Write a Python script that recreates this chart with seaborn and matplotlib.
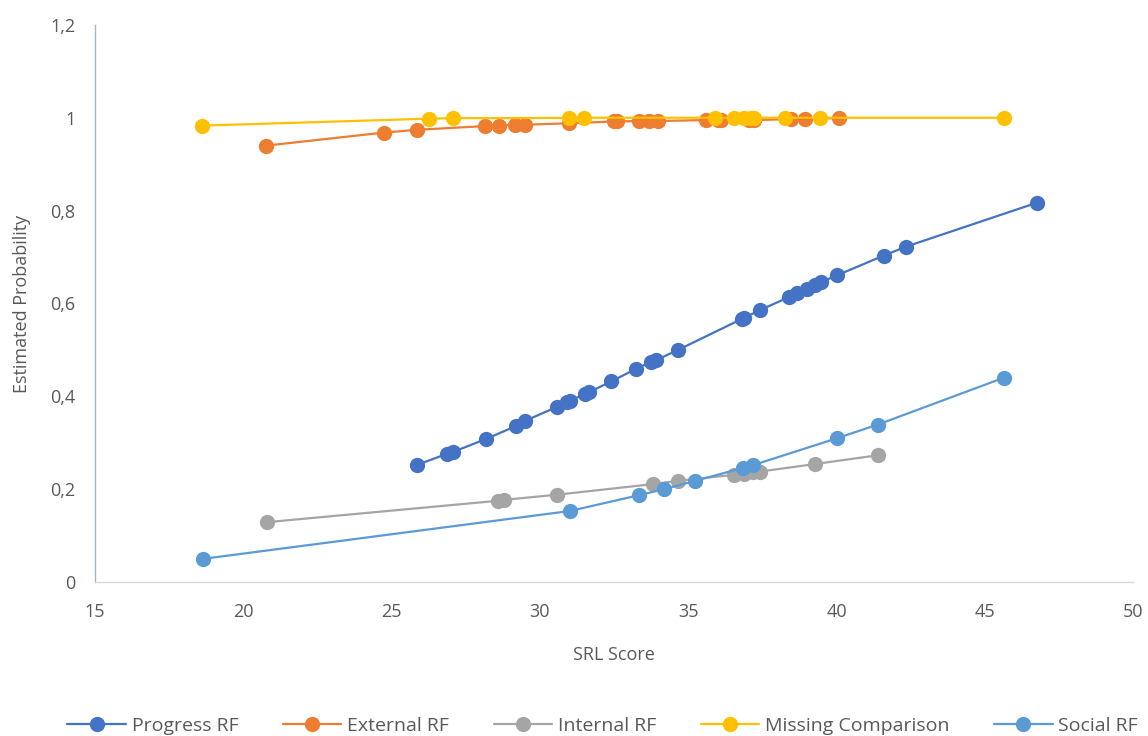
import matplotlib
matplotlib.use("Agg")
import matplotlib.pyplot as plt
import matplotlib.ticker as mticker
import seaborn as sns
import pandas as pd

# values
progress_x = [25.84, 26.86, 27.06, 28.18, 29.19, 29.49, 30.57, 30.91, 31.0, 31.52, 31.66,
              32.40, 33.24, 33.75, 33.92, 34.66, 36.82, 36.89, 37.43, 38.41, 38.68, 38.99,
              39.26, 39.49, 40.03, 41.59, 42.33, 46.76]
progress_y = [0.252, 0.276, 0.280, 0.308, 0.336, 0.347, 0.377, 0.388, 0.390, 0.405, 0.409,
              0.432, 0.459, 0.474, 0.478, 0.500, 0.567, 0.569, 0.586, 0.614, 0.623, 0.631,
              0.640, 0.646, 0.661, 0.703, 0.722, 0.817]

external_x = [20.78, 24.73, 25.84, 28.14, 28.61, 29.16, 29.49, 30.98, 32.50, 32.60, 33.34,
              33.68, 33.99, 35.61, 36.01, 36.10, 37.06, 37.23, 38.48, 38.95, 40.07]
external_y = [0.940, 0.968, 0.974, 0.982, 0.983, 0.985, 0.985, 0.988, 0.992, 0.992, 0.993,
              0.993, 0.993, 0.995, 0.995, 0.995, 0.995, 0.995, 0.997, 0.998, 0.999]

internal_x = [20.81, 28.58, 28.78, 30.57, 33.82, 34.66, 36.55, 36.89, 37.20, 37.43, 39.26, 41.39]
internal_y = [0.129, 0.175, 0.177, 0.188, 0.211, 0.218, 0.231, 0.233, 0.236, 0.238, 0.254, 0.273]

missing_x = [18.61, 26.25, 27.06, 30.98, 31.49, 35.91, 36.55, 36.89, 37.13, 37.23, 38.28,
             39.46, 45.64]
missing_y = [0.983, 0.998, 0.999, 0.9996, 1.0, 1.0, 1.0, 1.0, 1.0, 1.0, 1.0, 1.0, 1.0]

social_x = [18.65, 31.01, 33.34, 34.19, 35.24, 36.86, 37.20, 40.03, 41.39, 45.64]
social_y = [0.050, 0.153, 0.187, 0.200, 0.218, 0.246, 0.252, 0.310, 0.339, 0.440]

series = ["Progress RF", "External RF", "Internal RF", "Missing Comparison", "Social RF"]
colors = ["#4472C4", "#ED7D31", "#A5A5A5", "#FFC000", "#5B9BD5"]

frames = []
for name, xs, ys in zip(series,
                        [progress_x, external_x, internal_x, missing_x, social_x],
                        [progress_y, external_y, internal_y, missing_y, social_y]):
    frames.append(pd.DataFrame({"SRL Score": xs, "Estimated Probability": ys, "series": name}))
df = pd.concat(frames, ignore_index=True)

sns.set_style("white")
plt.rcParams["font.family"] = ["Open Sans", "DejaVu Sans"]

fig = plt.figure(figsize=(11.48, 7.36), dpi=100)
ax = fig.add_axes([0.0828, 0.2092, 0.9042, 0.757])

sns.lineplot(
    data=df, x="SRL Score", y="Estimated Probability", hue="series",
    hue_order=series, palette=colors, estimator=None, sort=False,
    marker="o", markersize=11, markeredgewidth=0, linewidth=1.6, ax=ax
)

ax.set_xlim(15, 50)
ax.set_ylim(0, 1.2)
ax.set_xticks(range(15, 51, 5))
ax.set_yticks([0, 0.2, 0.4, 0.6, 0.8, 1.0, 1.2])
ax.yaxis.set_major_formatter(
    mticker.FuncFormatter(lambda v, p: ("%g" % round(v, 1)).replace(".", ","))
)
ax.tick_params(axis="both", length=0, labelsize=13, colors="#595959")
ax.tick_params(axis="x", pad=15)
ax.tick_params(axis="y", pad=14)

for s in ["top", "right"]:
    ax.spines[s].set_visible(False)
ax.spines["left"].set_color("#A6B4C8")
ax.spines["bottom"].set_color("#D9D9D9")
ax.spines["left"].set_linewidth(1.0)
ax.spines["bottom"].set_linewidth(1.0)

ax.set_xlabel("SRL Score", fontsize=13, color="#595959", labelpad=18)
ax.set_ylabel("Estimated Probability", fontsize=13, color="#595959", labelpad=14)

ax.get_legend().remove()
handles, labels = ax.get_legend_handles_labels()
fig.legend(handles, labels, loc="lower center", bbox_to_anchor=(0.525, -0.022), ncol=5,
           frameon=False, fontsize=14, handlelength=3.0, columnspacing=2.3,
           handletextpad=0.3, labelcolor="#595959")

fig.savefig("out.png", dpi=100)
